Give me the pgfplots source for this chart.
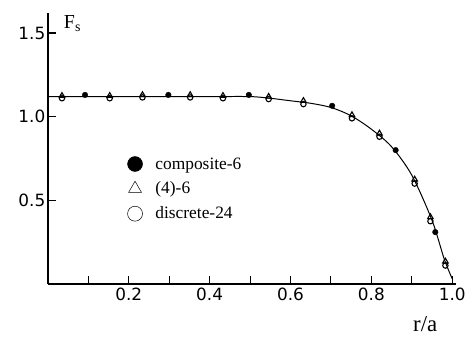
\documentclass[border=0pt]{standalone}
\usepackage{fontspec}
\setmainfont{Liberation Serif}
\setsansfont{DejaVu Sans}
\usepackage{pgfplots}
\pgfplotsset{compat=1.18}
\begin{document}
\begin{tikzpicture}
\begin{axis}[
  scale only axis, width=410bp, height=272bp,
  xmin=0, xmax=1.01, ymin=0, ymax=1.62,
  axis x line=bottom, axis y line=left,
  axis line style={line width=1.4pt, -},
  xtick={0.2,0.4,0.6,0.8,1.0},
  ytick={0.5,1.0,1.5},
  minor xtick={0.1,0.3,0.5,0.7,0.9},
  xticklabels={0.2,0.4,0.6,0.8,1.0},
  yticklabels={0.5,1.0,1.5},
  tick align=inside,
  major tick length=8bp, minor tick length=8bp,
  tick style={line width=1.1pt, black},
  ticklabel style={font=\sffamily\fontsize{17}{17}\selectfont},
  xticklabel style={yshift=-1bp},
  yticklabel style={xshift=1bp},
  /pgf/number format/assume math mode=true,
  clip=false,
  legend style={at={(rel axis cs:0.185,0.482)}, anchor=north west, draw=none, fill=none,
    font=\fontsize{17.5}{17.5}\selectfont, row sep=7.5bp},
  legend cell align=left,
  legend image code/.code={\path[#1, draw=none] plot coordinates {(0.3cm,0cm)}; \path[draw=none, fill=none] (0,0) -- ([xshift=10bp]0.6cm,0);},
  legend image post style={mark size=7.5bp, line width=0.5pt},
]
\addplot[black, line width=1pt, smooth, forget plot] coordinates {
(0,1.12) (0.1,1.12) (0.2,1.12) (0.3,1.12) (0.4,1.12) (0.5,1.12) (0.55,1.11)
(0.6,1.095) (0.65,1.08) (0.7,1.055) (0.75,1.005) (0.8,0.925) (0.85,0.82)
(0.9,0.65) (0.95,0.38) (0.98,0.15) (1.0,0.03)};
\addplot[only marks, mark=*, mark size=2.8pt, black, mark options={draw=black, fill=black}] coordinates {
(0.092,1.13) (0.298,1.13) (0.497,1.13) (0.703,1.065) (0.86,0.80) (0.958,0.31)};
\addplot[only marks, mark=triangle, mark size=3.2pt, black, line width=1.1pt, mark options={draw=black}] coordinates {
(0.035,1.125) (0.153,1.125) (0.234,1.13) (0.352,1.13) (0.433,1.125) (0.546,1.12)
(0.632,1.095) (0.752,1.01) (0.82,0.90) (0.907,0.625) (0.946,0.40) (0.983,0.135)};
\addplot[only marks, mark=o, mark size=2.7pt, black, line width=1.1pt, mark options={draw=black}] coordinates {
(0.035,1.11) (0.153,1.11) (0.234,1.115) (0.352,1.115) (0.433,1.11) (0.546,1.105)
(0.632,1.075) (0.752,0.99) (0.82,0.88) (0.907,0.60) (0.946,0.375) (0.983,0.11)};
\legend{composite-6,(4)-6,discrete-24}
\node[anchor=north west, inner sep=0pt, font=\fontsize{20}{20}\selectfont] at ([xshift=16bp,yshift=-2bp]rel axis cs:0,1) {F\textsubscript{s}};
\node[anchor=north, inner sep=0pt, font=\fontsize{23}{23}\selectfont] at ([yshift=-32bp]rel axis cs:0.924,0) {r/a};
\end{axis}
\path[use as bounding box] ([xshift=-48bp,yshift=-54bp]current axis.south west) rectangle ([xshift=11bp,yshift=13bp]current axis.north east);
\end{tikzpicture}
\end{document}
